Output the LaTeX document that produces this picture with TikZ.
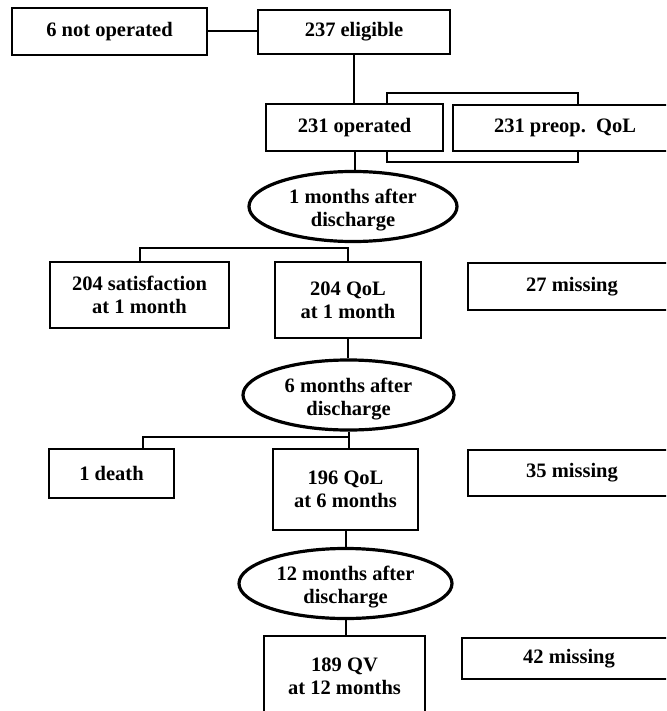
\documentclass[tikz,border=0pt]{standalone}
\usepackage{fontspec}
\setmainfont{Liberation Serif}
\usetikzlibrary{shapes.geometric}
\begin{document}
\begin{tikzpicture}[x=1pt,y=-1pt,every node/.style={font=\fontsize{20.5}{23}\selectfont\bfseries,align=center,inner sep=0pt},
box/.style={rectangle,draw,line width=2.1pt,fill=white},
visit/.style={ellipse,draw,line width=3.2pt,fill=white,text height=45pt},
link/.style={line width=2pt}]
    \useasboundingbox (0,0) rectangle (666,711);
    \clip (0,0) rectangle (666,711);
    % frame that joins the two boxes of the second row (drawn first, boxes hide its sides)
    \draw[link] (387,93) rectangle (578,162);
        \node[box,minimum width=195pt,minimum height=47pt] (notop) at (109.5,31.5) {6 not operated};
        \node[box,minimum width=192pt,minimum height=44pt] (elig) at (354,32) {237 eligible};
        \node[box,minimum width=177pt,minimum height=47pt] (oper) at (354.5,127.5) {231 operated};
        \node[box,minimum width=224pt,minimum height=46pt] (preop) at (565,128) {231 preop.\ \ QoL};
        \node[visit,minimum width=208pt,minimum height=63pt] (month1) at (353,206.5) {1 months after\\discharge};
        \node[box,minimum width=179pt,minimum height=66pt] (satis) at (139.5,295) {204 satisfaction\\at 1 month};
        \node[box,minimum width=146pt,minimum height=76pt] (qol1) at (348,300) {204 QoL\\at 1 month};
        \node[box,minimum width=208pt,minimum height=47pt] (miss1) at (572,286.5) {27 missing};
        \node[visit,minimum width=211pt,minimum height=60pt] (month6) at (348.5,395) {6 months after\\discharge};
        \node[box,minimum width=125pt,minimum height=49pt] (death) at (111.5,473.5) {1 death};
        \node[box,minimum width=145pt,minimum height=81pt] (qol6) at (345.5,489.5) {196 QoL\\at 6 months};
        \node[box,minimum width=208pt,minimum height=46pt] (miss6) at (572,473) {35 missing};
        \node[visit,minimum width=213pt,minimum height=57pt] (month12) at (345.5,583.5) {12 months after\\discharge};
        \node[box,minimum width=161pt,minimum height=80pt] (qv12) at (344.5,676) {189 QV\\at 12 months};
        \node[box,minimum width=214pt,minimum height=41pt] (miss12) at (569,658.5) {42 missing};
    % connectors
    \draw[link] (notop.east) -- (notop.east -| elig.west);
    \draw[link] (elig.south) -- (elig.south |- oper.north);
    \draw[link] (oper.south) -- (oper.south |- month1.north);
    \draw[link] (satis.north) -- ++(0,-13) -| (qol1.north);
    \draw[link] (qol1.south) -- (qol1.south |- month6.north);
    \coordinate (split6) at (143,437);
    \draw[link] (month6.south) -- (month6.south |- qol6.north);
    \draw[link] (month6.south |- split6) -- (split6) -- (split6 |- death.north);
    \draw[link] (qol6.south) -- (qol6.south |- month12.north);
    \draw[link] (month12.south) -- (month12.south |- qv12.north);
\end{tikzpicture}
\end{document}
